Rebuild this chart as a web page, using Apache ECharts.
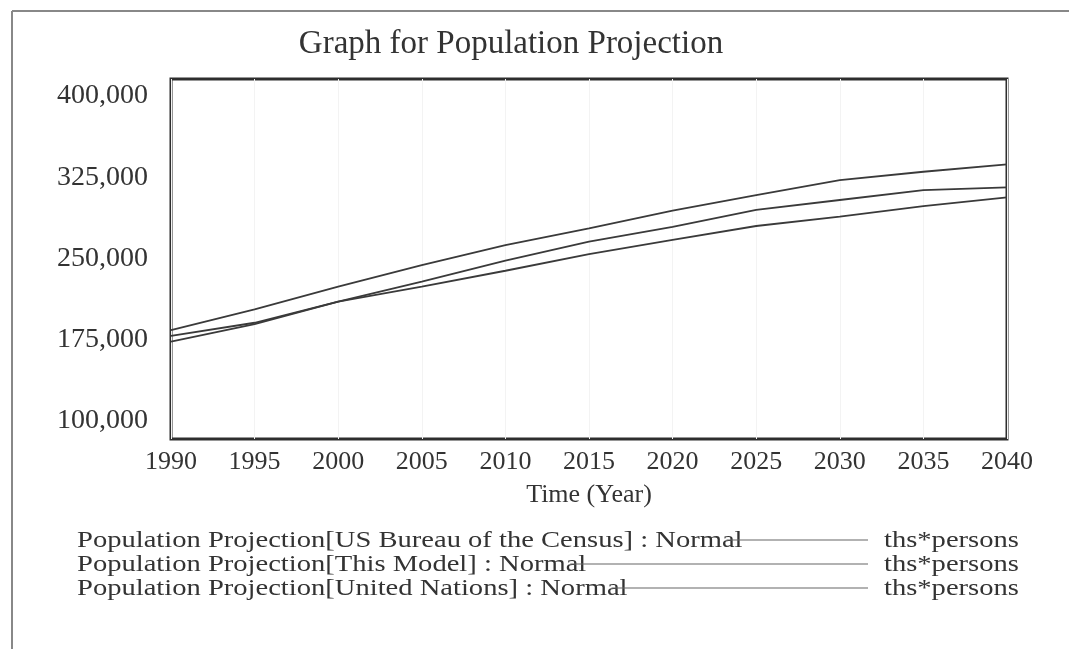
<!DOCTYPE html>
<html>
<head>
<meta charset="utf-8">
<script src="https://cdn.jsdelivr.net/npm/echarts@6/dist/echarts.min.js"></script>
<style>
  html, body { margin: 0; padding: 0; background: #fff; }
  #main { width: 1069px; height: 649px; }
</style>
</head>
<body>
<div id="main"></div>
<script>
// data (thousands of persons)
const years = [1990, 1995, 2000, 2005, 2010, 2015, 2020, 2025, 2030, 2035, 2040];
const censusPop = [184000, 203100, 224000, 244000, 262400, 277900, 294100, 308600, 322400, 330100, 336900];
const modelPop = [178500, 190700, 210100, 228600, 248000, 265500, 279300, 294800, 304000, 313200, 315700];
const unPop = [173200, 189500, 210100, 224000, 238700, 254100, 267100, 280000, 288600, 298400, 306500];
const yTicks = [100000, 175000, 250000, 325000, 400000];
const seriesNames = [
  'Population Projection[US Bureau of the Census] : Normal',
  'Population Projection[This Model] : Normal',
  'Population Projection[United Nations] : Normal'
];
const unitLabel = 'ths*persons';

const FONT = '"Liberation Serif", "DejaVu Serif", serif';
const TXT = '#333';
const LINE = '#3a3a3a';

const chart = echarts.init(document.getElementById('main'));

// the scanned legend text is wider than it is tall, so stretch it a bit
const LEG_FONT = '24px ' + FONT;
const LEG_STRETCH = 1.19;
const ctx = document.createElement('canvas').getContext('2d');
ctx.font = LEG_FONT;

const rowY = [541, 565, 589];
const legendEls = [];
seriesNames.forEach((name, i) => {
  const w = ctx.measureText(name).width * LEG_STRETCH;
  legendEls.push({
    type: 'text', x: 77, y: rowY[i], scaleX: LEG_STRETCH,
    style: { text: name, font: LEG_FONT, fill: TXT, verticalAlign: 'middle' }
  });
  legendEls.push({
    type: 'line',
    shape: { x1: 77 + w - 16, y1: rowY[i] - 1, x2: 868, y2: rowY[i] - 1 },
    style: { stroke: '#666', lineWidth: 1.2 }
  });
  legendEls.push({
    type: 'text', x: 884, y: rowY[i], scaleX: LEG_STRETCH,
    style: { text: unitLabel, font: LEG_FONT, fill: TXT, verticalAlign: 'middle' }
  });
});

const mk = (name, arr) => ({
  name: name,
  type: 'line',
  symbol: 'none',
  lineStyle: { color: LINE, width: 1.8 },
  data: years.map((y, i) => [y, arr[i]])
});

chart.setOption({
  animation: false,
  backgroundColor: '#fff',
  grid: {
    left: 171, right: 62, top: 79, bottom: 210,
    show: true, borderColor: '#2e2e2e', borderWidth: 3, backgroundColor: 'transparent'
  },
  xAxis: {
    type: 'value',
    min: 1990, max: 2040, interval: 5,
    axisLine: { show: false },
    axisTick: { show: false },
    axisLabel: { fontFamily: FONT, fontSize: 26, color: TXT, margin: 10, formatter: v => String(v) },
    splitLine: { show: true, lineStyle: { color: '#f3f3f3', width: 1 } },
    name: 'Time (Year)',
    nameLocation: 'middle',
    nameGap: 43,
    nameTextStyle: { fontFamily: FONT, fontSize: 26, color: TXT }
  },
  yAxis: {
    type: 'value',
    min: 83400, max: 415700,
    axisLine: { show: false },
    axisTick: { show: false },
    splitLine: { show: false },
    axisLabel: {
      customValues: yTicks,
      formatter: v => v.toLocaleString('en-US'),
      fontFamily: FONT, fontSize: 28, color: TXT, margin: 23,
      padding: [4, 0, 0, 0]
    }
  },
  series: [
    mk(seriesNames[0], censusPop),
    mk(seriesNames[1], modelPop),
    mk(seriesNames[2], unPop)
  ],
  graphic: [
    // outer page frame (top and left edges)
    { type: 'line', shape: { x1: 12, y1: 11, x2: 1069, y2: 11 }, style: { stroke: '#888', lineWidth: 2 } },
    { type: 'line', shape: { x1: 12, y1: 11, x2: 12, y2: 649 }, style: { stroke: '#888', lineWidth: 2 } },
    {
      type: 'text', x: 511, y: 44,
      style: {
        text: 'Graph for Population Projection', font: '33px ' + FONT, fill: TXT,
        align: 'center', verticalAlign: 'middle'
      }
    }
  ].concat(legendEls)
});
</script>
</body>
</html>
